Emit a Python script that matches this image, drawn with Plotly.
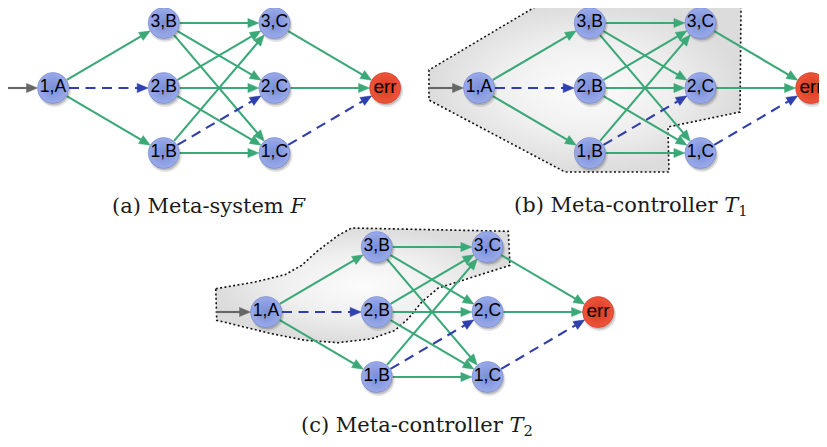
import math
import plotly.graph_objects as go

# ---------------- data ----------------
node_names = ['1,A', '3,B', '2,B', '1,B', '3,C', '2,C', '1,C', 'err']
node_col = [0, 1, 1, 1, 2, 2, 2, 3]
node_lvl = [2, 3, 2, 1, 3, 2, 1, 2]

green_src = ['1,A', '1,A', '3,B', '3,B', '3,B', '2,B', '2,B', '2,B', '1,B', '1,B', '3,C', '2,C']
green_dst = ['3,B', '1,B', '3,C', '2,C', '1,C', '3,C', '2,C', '1,C', '3,C', '1,C', 'err', 'err']
blue_src = ['1,A', '1,B', '1,C']
blue_dst = ['2,B', '2,C', 'err']
entry_target = '1,A'
entry_col = -0.45

captions = ['(a) Meta-system <i>F</i>',
            '(b) Meta-controller <i>T</i><sub>1</sub>',
            '(c) Meta-controller <i>T</i><sub>2</sub>']

# shaded controller regions (in node-grid units: column, level)
region_b_u = [0.551, 2.367, 2.358, 1.707, 1.716, 0.777, -0.452, -0.452, 0.551]
region_b_v = [3.292, 3.277, 1.631, 1.400, 0.708, 0.708, 1.815, 2.277, 3.292]
region_c_u = [-0.454, -0.099, 0.172, 0.322, 0.472, 0.653, 0.774, 2.189, 2.204, 1.556,
              1.407, 1.285, 1.165, 0.955, 0.653, 0.352, 0.051, -0.445, -0.454]
region_c_v = [2.358, 2.462, 2.574, 2.718, 2.949, 3.180, 3.292, 3.242, 2.718, 2.369,
              2.154, 1.897, 1.718, 1.589, 1.528, 1.565, 1.666, 1.872, 2.358]
regions = [None, (region_b_u, region_b_v), (region_c_u, region_c_v)]

# ---------------- layout parameters ----------------
OFF = 8                        # page body margin
W, H = 827 - OFF, 447 - OFF
panel_x0 = [53 - OFF, 479 - OFF, 266 - OFF]     # pixel x of column 0
panel_ytop = [23 - OFF, 23 - OFF, 247 - OFF]    # pixel y of level 3
SX, SY = 110.7, 65.0           # pixels per column / per level
caption_xy = [(209 - OFF, 206 - OFF), (631 - OFF, 206 - OFF), (417 - OFF, 426 - OFF)]
R = 15.5                       # node radius in px
AL, AW = 11.0, 4.6             # arrowhead length, half width (px)

GREEN = '#3aa877'
BLUE = '#2f3fae'
GREY = '#666666'

pos = {n: (c, l) for n, c, l in zip(node_names, node_col, node_lvl)}


def to_px(k, u, v):
    return panel_x0[k] + u * SX, panel_ytop[k] + (3 - v) * SY


def to_uv(k, px, py):
    return (px - panel_x0[k]) / SX, 3 - (py - panel_ytop[k]) / SY


def edge_geom(k, a, b, r_start):
    x1, y1 = to_px(k, *a)
    x2, y2 = to_px(k, *b)
    dx, dy = x2 - x1, y2 - y1
    L = math.hypot(dx, dy)
    ux, uy = dx / L, dy / L
    sx, sy = x1 + ux * r_start, y1 + uy * r_start
    tx, ty = x2 - ux * R, y2 - uy * R
    ex, ey = tx - ux * (AL - 2), ty - uy * (AL - 2)
    bx, by = tx - ux * AL, ty - uy * AL
    px_, py_ = -uy, ux
    line = [to_uv(k, sx, sy), to_uv(k, ex, ey)]
    head = [to_uv(k, tx, ty), to_uv(k, bx + px_ * AW, by + py_ * AW),
            to_uv(k, bx - px_ * AW, by - py_ * AW), to_uv(k, tx, ty)]
    return line, head


fig = go.Figure()

for k in range(3):
    xa = 'x' if k == 0 else 'x%d' % (k + 1)
    ya = 'y' if k == 0 else 'y%d' % (k + 1)

    # region
    if regions[k] is not None:
        ru, rv = regions[k]
        fig.add_trace(go.Scatter(
            x=ru, y=rv, mode='lines', fill='toself',
            fillgradient=dict(type='radial',
                              colorscale=[[0, '#fcfcfc'], [0.55, '#efefef'], [1, '#dcdcdc']]),
            line=dict(color='#111111', width=1.6, dash='2px,2.4px'),
            xaxis=xa, yaxis=ya, hoverinfo='skip', showlegend=False))

    def add_edges(srcs, dsts, color, dash, entry=False):
        lx, ly, hx, hy = [], [], [], []
        for s, d in zip(srcs, dsts):
            if entry:
                a = (entry_col, pos[d][1])
                rs = 0
            else:
                a = pos[s]
                rs = R + 0.5
            line, head = edge_geom(k, a, pos[d], rs)
            for u, v in line:
                lx.append(u); ly.append(v)
            lx.append(None); ly.append(None)
            for u, v in head:
                hx.append(u); hy.append(v)
            hx.append(None); hy.append(None)
        fig.add_trace(go.Scatter(x=lx, y=ly, mode='lines',
                                 line=dict(color=color, width=2.1, dash=dash),
                                 xaxis=xa, yaxis=ya, hoverinfo='skip', showlegend=False))
        fig.add_trace(go.Scatter(x=hx, y=hy, mode='lines', fill='toself',
                                 fillcolor=color, line=dict(color=color, width=0.5),
                                 xaxis=xa, yaxis=ya, hoverinfo='skip', showlegend=False))

    add_edges(green_src, green_dst, GREEN, 'solid')
    add_edges(blue_src, blue_dst, BLUE, '10px,6.5px')
    add_edges([None], [entry_target], GREY, 'solid', entry=True)

    # node shadows
    fig.add_trace(go.Scatter(
        x=[c + 1.6 / SX for c in node_col], y=[l - 2.6 / SY for l in node_lvl],
        mode='markers', marker=dict(size=33, color='rgba(40,40,40,0.12)', line=dict(width=0)),
        xaxis=xa, yaxis=ya, hoverinfo='skip', showlegend=False))
    fig.add_trace(go.Scatter(
        x=[c + 1.2 / SX for c in node_col], y=[l - 1.8 / SY for l in node_lvl],
        mode='markers', marker=dict(size=31, color='rgba(40,40,40,0.2)', line=dict(width=0)),
        xaxis=xa, yaxis=ya, hoverinfo='skip', showlegend=False))

    # nodes
    fills = ['#ee553a' if n == 'err' else '#9aabea' for n in node_names]
    edges_c = ['#d83a20' if n == 'err' else '#7a8dd7' for n in node_names]
    fig.add_trace(go.Scatter(
        x=node_col, y=node_lvl, mode='markers',
        marker=dict(size=31, color=fills,
                    gradient=dict(type='radial', color=edges_c),
                    line=dict(width=0.6, color=['#c9331b' if n == 'err' else '#7083cc' for n in node_names])),
        xaxis=xa, yaxis=ya, hoverinfo='skip', showlegend=False))

    # node labels
    for is_err, fsize in ((False, 17.5), (True, 19)):
        idx = [i for i, n in enumerate(node_names) if (n == 'err') == is_err]
        fig.add_trace(go.Scatter(
            x=[node_col[i] for i in idx], y=[node_lvl[i] for i in idx],
            mode='text', text=[node_names[i] for i in idx], textposition='middle center',
            textfont=dict(family='Liberation Sans, Arial, sans-serif', size=fsize, color='#000000'),
            xaxis=xa, yaxis=ya, hoverinfo='skip', showlegend=False))

layout = dict(width=W, height=H, margin=dict(l=0, r=0, t=0, b=0),
              paper_bgcolor='white', plot_bgcolor='white', showlegend=False)
for k in range(3):
    xr = [-panel_x0[k] / SX, (W - panel_x0[k]) / SX]
    yr = [3 - (H - panel_ytop[k]) / SY, 3 + panel_ytop[k] / SY]
    xk = 'xaxis' if k == 0 else 'xaxis%d' % (k + 1)
    yk = 'yaxis' if k == 0 else 'yaxis%d' % (k + 1)
    xd = dict(range=xr, visible=False, fixedrange=True, domain=[0, 1])
    yd = dict(range=yr, visible=False, fixedrange=True, domain=[0, 1])
    if k > 0:
        xd.update(overlaying='x', anchor='y%d' % (k + 1))
        yd.update(overlaying='y', anchor='x%d' % (k + 1))
    layout[xk] = xd
    layout[yk] = yd

annotations = []
for cap, (cx, cy) in zip(captions, caption_xy):
    annotations.append(dict(text=cap, x=cx / W, y=1 - cy / H, xref='paper', yref='paper',
                            showarrow=False, xanchor='center', yanchor='middle',
                            font=dict(family='DejaVu Serif, serif', size=21, color='#1a1a1a')))
layout['annotations'] = annotations
fig.update_layout(**layout)

fig.write_html('out.html')
